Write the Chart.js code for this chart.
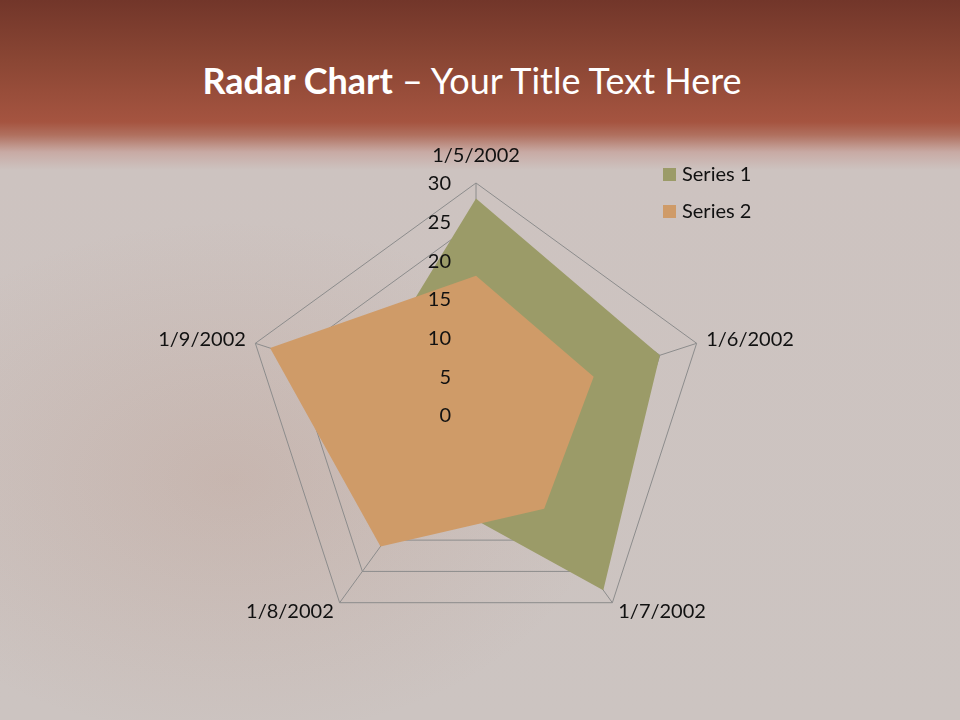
<!DOCTYPE html>
<html>
<head>
<meta charset="utf-8">
<script src="https://cdn.jsdelivr.net/npm/chart.js@4/dist/chart.umd.min.js"></script>
<style>
  html, body { margin: 0; padding: 0; }
  body {
    width: 960px; height: 720px; overflow: hidden; position: relative;
    font-family: Lato, "Open Sans", sans-serif;
    background:
      radial-gradient(ellipse 380px 260px at 230px 480px, rgba(170,110,85,0.16), rgba(170,110,85,0) 100%),
      linear-gradient(to bottom, #72362a 0px, #8a4634 60px, #a55440 122px, #b0705f 135px, #c8aaa4 152px, #cdc3c0 170px, #ccc4c1 720px);
  }
  #titulo {
    position: absolute; left: 0; top: 58px; width: 944px; text-align: center;
    color: #fff; font-size: 36px; margin: 0; font-weight: normal;
  }
  #titulo strong { font-weight: bold; }
  #grafico { position: absolute; left: 0; top: 0; }
</style>
</head>
<body>
<h1 id="titulo"><strong>Radar Chart</strong> – Your Title Text Here</h1>
<canvas id="grafico" width="960" height="720"></canvas>
<script>
const datas = ['1/5/2002', '1/6/2002', '1/7/2002', '1/8/2002', '1/9/2002']
const serie1 = [28, 25, 28, 12, 15]
const serie2 = [18, 16, 15, 21, 28]
const escala = [0, 30, 5]  // min, max, passo

const corSerie1 = 'rgb(155, 155, 104)'
const corSerie2 = 'rgb(207, 155, 104)'

// desenha os numeros do eixo e a legenda (o radar do chart.js nao mostra o 0)
const extras = {
  id: 'extras',
  afterDraw(chart) {
    const ctx = chart.ctx
    const r = chart.scales.r
    ctx.save()
    ctx.font = '20px Lato, "Open Sans", sans-serif'
    ctx.fillStyle = '#111'
    ctx.textAlign = 'right'
    ctx.textBaseline = 'middle'
    r.ticks.forEach(function (tick) {
      const dist = r.getDistanceFromCenterForValue(tick.value)
      ctx.fillText(tick.label, r.xCenter - 25, r.yCenter - dist + 1)
    })
    ctx.textAlign = 'left'
    const itens = [chart.data.datasets[0], chart.data.datasets[1]]
    itens.forEach(function (ds, i) {
      const y = 174 + i * 37
      ctx.fillStyle = ds.backgroundColor
      ctx.fillRect(663, y - 6, 13, 13)
      ctx.fillStyle = '#111'
      ctx.fillText(ds.label, 682, y + 1)
    })
    ctx.restore()
  }
}

new Chart(document.getElementById('grafico'), {
  type: 'radar',
  data: {
    labels: datas,
    datasets: [
      {
        label: 'Series 1',
        data: serie1,
        backgroundColor: corSerie1,
        borderWidth: 0,
        pointRadius: 0,
        fill: true,
        order: 1
      },
      {
        label: 'Series 2',
        data: serie2,
        backgroundColor: corSerie2,
        borderWidth: 0,
        pointRadius: 0,
        fill: true,
        order: 0
      }
    ]
  },
  options: {
    responsive: false,
    animation: false,
    layout: {
      padding: { top: 125, bottom: 52, left: 115, right: 122 }
    },
    plugins: {
      legend: { display: false },
      tooltip: { enabled: false }
    },
    scales: {
      r: {
        min: escala[0],
        max: escala[1],
        ticks: { display: false, stepSize: escala[2] },
        grid: { color: 'rgb(140, 140, 140)', lineWidth: 1 },
        angleLines: { color: 'rgb(140, 140, 140)', lineWidth: 1 },
        pointLabels: {
          color: '#111',
          padding: (c) => c.index === 0 ? 15 : 10,
          font: (c) => ({
            family: 'Lato, "Open Sans", sans-serif',
            size: 20,
            lineHeight: c.index === 0 ? 1.2 : 0.1
          })
        }
      }
    }
  },
  plugins: [extras]
})
</script>
</body>
</html>
